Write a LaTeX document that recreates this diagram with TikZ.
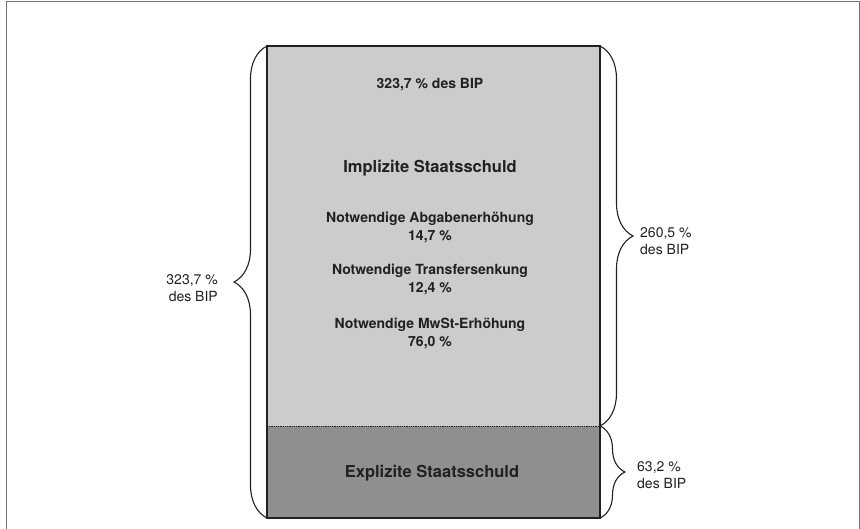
\documentclass[tikz,border=0pt]{standalone}
\usepackage{fontspec}
\setmainfont{TeX Gyre Heros}
\usetikzlibrary{decorations.pathreplacing}

\definecolor{implfill}{gray}{0.80}
\definecolor{explfill}{gray}{0.56}
\definecolor{ink}{gray}{0.13}

\begin{document}
\begin{tikzpicture}[x=1pt, y=1pt,
    every node/.style={inner sep=0pt, text=ink},
    boxtext/.style={font=\bfseries\fontsize{14}{18}\selectfont, align=center},
    boxtitle/.style={font=\bfseries\fontsize{16.5}{20}\selectfont},
    sidetext/.style={font=\fontsize{14}{17}\selectfont},
    curly/.style={decorate, decoration={brace, amplitude=#1}, line width=1.1pt, draw=ink}]
  \useasboundingbox (0,0) rectangle (860,529);
  \draw[black!55, line width=1pt] (6,0) -- (6,527) -- (859,527) -- (859,0);

  % the column
  \coordinate (bl) at (267,11);
  \coordinate (ml) at (267,103);
  \coordinate (tl) at (267,483);
  \coordinate (br) at (600,11);
  \coordinate (mr) at (600,103);
  \coordinate (tr) at (600,483);
  \fill[implfill] (ml) rectangle (tr);
  \fill[explfill] (bl) rectangle (mr);
  \draw[ink, line width=0.8pt, densely dotted] (ml) -- (mr);
  \draw[ink, line width=1.4pt] (bl) rectangle (tr);

  \node[boxtext] (total) at (430,444) {323,7 \% des BIP};
  \node[boxtitle] (impl) at (430,361) {Implizite Staatsschuld};
  \node[boxtext] (abgaben) at (430,301) {Notwendige Abgabenerhöhung\\14,7 \%};
  \node[boxtext] (transfer) at (430,249) {Notwendige Transfersenkung\\12,4 \%};
  \node[boxtext] (mwst) at (430,195) {Notwendige MwSt-Erhöhung\\76,0 \%};
  \node[boxtitle] (expl) at (432,56) {Explizite Staatsschuld};

  % braces
  \draw[curly=33] (bl) -- (tl);
  \draw[curly=33] (tr) -- (mr);
  \draw[curly=25] (mr) -- (br);

  \node[sidetext, anchor=east, align=right] (lefttot) at (218,241) {323,7 \%\\des BIP};
  \node[sidetext, anchor=west, align=left] (implpct) at (640,288) {260,5 \%\\des BIP};
  \node[sidetext, anchor=west, align=left] (explpct) at (637,54) {63,2 \%\\des BIP};
\end{tikzpicture}
\end{document}
